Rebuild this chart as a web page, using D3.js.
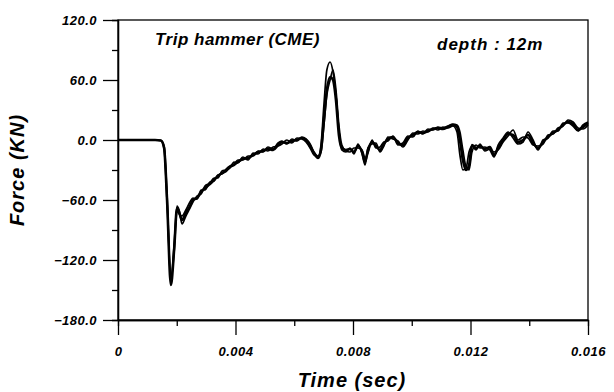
<!DOCTYPE html>
<html>
<head>
<meta charset="utf-8">
<script src="https://cdn.jsdelivr.net/npm/d3@7"></script>
<style>
  body { margin: 0; background: #fff; }
  text { font-family: "Liberation Sans", Arial, sans-serif; font-weight: bold; font-style: italic; fill: #000; }
</style>
</head>
<body>
<svg id="chart" width="614" height="392"></svg>
<script>
// time (s) shared by all traces
const time = [0, 0.00126, 0.00146, 0.00157, 0.00167, 0.0018, 0.00191, 0.00201, 0.00208, 0.00218,
  0.00231, 0.00245, 0.00255, 0.00269, 0.00283, 0.00296, 0.00313, 0.00327, 0.0034, 0.00354,
  0.00368, 0.00381, 0.00395, 0.00408, 0.00425, 0.00443, 0.0046, 0.00477, 0.00494, 0.0051,
  0.00528, 0.00545, 0.00558, 0.00575, 0.00592, 0.00609, 0.00626, 0.0064, 0.00654, 0.00667,
  0.00681, 0.00691, 0.00701, 0.00711, 0.00722, 0.00732, 0.00742, 0.00752, 0.00762, 0.00776,
  0.0079, 0.00803, 0.00817, 0.00831, 0.00841, 0.00851, 0.00865, 0.00878, 0.00892, 0.00905,
  0.00919, 0.00936, 0.00953, 0.0097, 0.00987, 0.01004, 0.01021, 0.01038, 0.01055, 0.01072,
  0.01089, 0.01106, 0.01123, 0.0114, 0.01154, 0.01164, 0.01174, 0.01185, 0.01195, 0.01205,
  0.01219, 0.01232, 0.01249, 0.01266, 0.0128, 0.01294, 0.01311, 0.01328, 0.01345, 0.01362,
  0.01379, 0.01396, 0.01413, 0.0143, 0.01447, 0.01464, 0.01481, 0.01498, 0.01515, 0.01532,
  0.01549, 0.01566, 0.01583, 0.016];

// force (KN), three blows
const forceA = [0, 0, -0.5, -8, -60, -145, -110, -68, -72, -80,
  -73, -66, -60, -58, -52, -48, -44, -40, -36, -33,
  -31, -27, -25, -22, -19, -18, -15, -12, -11, -9,
  -10, -5, -2, -3, -1, 0, 2, 0, -6, -13,
  -18, -10, 20, 50, 63, 60, 40, 5, -8, -10,
  -9, -12, -6, -12, -22, -10, -2, -6, -10, -4,
  1, 3, -3, -5, 2, 5, 8, 7, 9, 11,
  12, 11, 13, 15, 13, 0, -20, -30, -25, -5,
  -8, -6, -9, -7, -15, -8, 0, 6, 5, -2,
  0, 5, -3, -8, -2, 3, 7, 10, 15, 18,
  16, 10, 13, 17];
const forceB = [0, 0, -0.5, -6, -55, -142, -105, -66, -70, -84,
  -76, -68, -62, -56, -54, -46, -43, -38, -38, -31,
  -30, -28, -22, -23, -17, -20, -13, -14, -9, -11,
  -7, -6, -4, 0, -3, 2, 1, -2, -8, -15,
  -17, -5, 35, 70, 78, 68, 45, 10, -10, -12,
  -8, -14, -4, -14, -25, -8, -4, -3, -12, -6,
  3, 1, -1, -7, 0, 7, 6, 9, 8, 12,
  10, 13, 12, 14, 8, -15, -30, -28, -12, -6,
  -10, -4, -11, -9, -12, -10, -2, 4, 10, 0,
  3, 2, -5, -6, -4, 5, 6, 12, 14, 20,
  18, 12, 11, 15];
const forceC = [0, 0, -0.5, -9, -62, -140, -112, -70, -74, -76,
  -70, -62, -58, -59, -50, -50, -42, -41, -35, -34,
  -29, -26, -24, -20, -20, -16, -16, -11, -12, -7,
  -9, -3, -1, -4, 1, -1, 3, 1, -4, -12,
  -16, -12, 15, 45, 60, 70, 50, 15, -5, -11,
  -12, -8, -8, -10, -18, -13, 0, -8, -7, -2,
  -1, 4, -5, -3, 4, 3, 9, 6, 11, 10,
  13, 12, 14, 16, 15, 8, -10, -27, -30, -12,
  -5, -8, -7, -10, -17, -5, 2, 8, 2, -4,
  -2, 8, 0, -10, 0, 2, 9, 9, 17, 17,
  14, 9, 15, 18];

const xTicks = [0, 0.004, 0.008, 0.012, 0.016];
const yTicks = [-180, -120, -60, 0, 60, 120];

const svg = d3.select("#chart"),
  margin = { top: 20, right: 26, bottom: 72, left: 118 },
  width = 614 - margin.left - margin.right,
  height = 392 - margin.top - margin.bottom,
  g = svg.append("g").attr("transform", "translate(" + margin.left + "," + margin.top + ")");

let x = d3.scaleLinear().domain([0, 0.016]).range([0, width]);
let y = d3.scaleLinear().domain([-180, 120]).range([height, 0]);

// minor ticks
g.append("g")
  .attr("transform", "translate(0," + height + ")")
  .call(d3.axisBottom(x).tickValues(d3.range(0.002, 0.016, 0.004)).tickSize(6).tickFormat(""));
g.append("g")
  .call(d3.axisLeft(y).tickValues(d3.range(-150, 120, 60)).tickSize(6).tickFormat(""));

// major ticks
let xAxis = g.append("g")
  .attr("transform", "translate(0," + height + ")")
  .call(d3.axisBottom(x).tickValues(xTicks).tickSize(15).tickSizeOuter(0)
    .tickFormat((d) => (d === 0 ? "0" : d3.format(".3f")(d))));
xAxis.selectAll("text").attr("y", 27).attr("dy", "0.71em")
  .attr("font-size", "13px").attr("letter-spacing", "0.5px");

let yAxis = g.append("g")
  .call(d3.axisLeft(y).tickValues(yTicks).tickSize(15).tickSizeOuter(0).tickPadding(6)
    .tickFormat(d3.format(".1f")));
yAxis.selectAll("text").attr("font-size", "13px").attr("letter-spacing", "0.5px");

g.selectAll(".domain, .tick line").attr("stroke", "#000").attr("stroke-width", 1.3);
g.selectAll(".tick text").attr("fill", "#000").style("font-family", null);

// frame
g.append("rect")
  .attr("width", width).attr("height", height)
  .attr("fill", "none").attr("stroke", "#000").attr("stroke-width", 1.3);

// traces
let line = d3.line()
  .x((d) => x(d[0]))
  .y((d) => y(d[1]))
  .curve(d3.curveMonotoneX);

[forceB, forceC, forceA].forEach((f, i) => {
  g.append("path")
    .datum(time.map((t, j) => [t, f[j]]))
    .attr("fill", "none")
    .attr("stroke", "#000")
    .attr("stroke-width", i === 2 ? 2.6 : 1.7)
    .attr("stroke-linejoin", "round")
    .attr("d", line);
});

// labels
g.append("text").attr("x", 37).attr("y", 25).attr("font-size", "17px")
  .attr("letter-spacing", "0.5px").text("Trip hammer (CME)");
g.append("text").attr("x", 319).attr("y", 30).attr("font-size", "17px")
  .attr("letter-spacing", "1px").text("depth : 12m");

svg.append("text")
  .attr("x", 352).attr("y", 387)
  .attr("text-anchor", "middle")
  .attr("font-size", "20px")
  .attr("letter-spacing", "1px")
  .text("Time (sec)");

svg.append("text")
  .attr("transform", "translate(24,170) rotate(-90)")
  .attr("text-anchor", "middle")
  .attr("font-size", "20px")
  .attr("letter-spacing", "1px")
  .text("Force (KN)");
</script>
</body>
</html>
